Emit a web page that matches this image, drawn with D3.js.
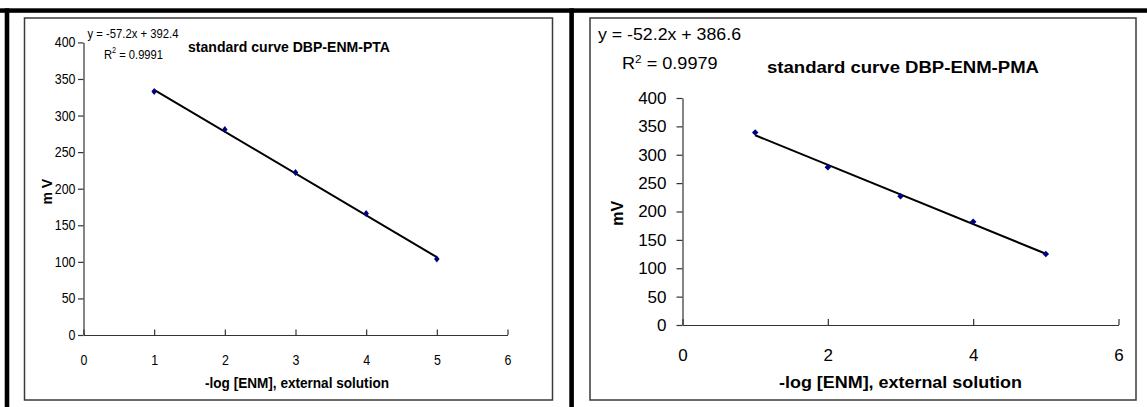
<!DOCTYPE html>
<html><head><meta charset="utf-8">
<script src="https://cdn.jsdelivr.net/npm/d3@7"></script>
<style>html,body{margin:0;padding:0;background:#fff;}svg{display:block;}text{font-family:"Liberation Sans",Arial,sans-serif;}</style>
</head><body>
<svg id="c" width="1147" height="407"></svg>
<script>
// ---- data ----
const xTicksA = [0, 1, 2, 3, 4, 5, 6];
const yTicksA = [0, 50, 100, 150, 200, 250, 300, 350, 400];
const concA = [1, 2, 3, 4, 5];
const mvA = [333, 281, 222, 166, 104];
const fitA = [-57.2, 392.4];          // slope, intercept
const eqA = "y = -57.2x + 392.4";
const r2A = "0.9991";
const titleA = "standard curve DBP-ENM-PTA";
const yLabelA = "m V";

const xTicksB = [0, 2, 4, 6];
const yTicksB = [0, 50, 100, 150, 200, 250, 300, 350, 400];
const concB = [1, 2, 3, 4, 5];
const mvB = [339, 278, 227, 182, 125];
const fitB = [-52.2, 386.6];
const eqB = "y = -52.2x + 386.6";
const r2B = "0.9979";
const titleB = "standard curve DBP-ENM-PMA";
const yLabelB = "mV";

const xLabel = "-log [ENM], external solution";

const svg = d3.select("#c");

// outer black frame (top, left, middle divider)
svg.append("rect").attr("x", 0).attr("y", 8.3).attr("width", 1147).attr("height", 4.5).attr("fill", "#000");
svg.append("rect").attr("x", 4.7).attr("y", 8.3).attr("width", 4.6).attr("height", 407).attr("fill", "#000");
svg.append("rect").attr("x", 569.3).attr("y", 8.3).attr("width", 4.6).attr("height", 407).attr("fill", "#000");

function panel(cfg) {
  const g = svg.append("g");
  g.append("rect").attr("x", cfg.box[0]).attr("y", cfg.box[1])
    .attr("width", cfg.box[2] - cfg.box[0]).attr("height", cfg.box[3] - cfg.box[1])
    .attr("fill", "#fff").attr("stroke", "#3a3a3a").attr("stroke-width", 1.5);

  const x = d3.scaleLinear().domain([0, 6]).range(cfg.xr);
  const y = d3.scaleLinear().domain([0, 400]).range(cfg.yr);

  const ya = g.append("g").attr("transform", `translate(${cfg.xr[0]},0)`)
    .call(d3.axisLeft(y).tickValues(cfg.yTicks).tickFormat(d3.format("d"))
      .tickSizeInner(cfg.tick).tickSizeOuter(0).tickPadding(cfg.ypad));
  ya.selectAll("text").attr("font-size", cfg.tickFont).attr("fill", "#000")
    .attr("font-family", '"Liberation Sans",Arial,sans-serif');
  if (cfg.tickCharW) ya.selectAll("text").attr("textLength", d => String(d).length * cfg.tickCharW)
    .attr("lengthAdjust", "spacingAndGlyphs");
  ya.selectAll("line,path").attr("stroke", "#333").attr("stroke-width", 1.2);

  const xa = g.append("g").attr("transform", `translate(0,${cfg.yr[0]})`)
    .call(d3.axisBottom(x).tickValues(cfg.xTicks).tickFormat(d3.format("d"))
      .tickSizeInner(-cfg.tick).tickSizeOuter(0));
  xa.selectAll("text").attr("font-size", cfg.tickFont).attr("fill", "#000")
    .attr("y", cfg.xlabOff).attr("dy", "0.35em")
    .attr("font-family", '"Liberation Sans",Arial,sans-serif');
  if (cfg.tickCharW) xa.selectAll("text").attr("textLength", d => String(d).length * cfg.tickCharW)
    .attr("lengthAdjust", "spacingAndGlyphs");
  xa.selectAll("line,path").attr("stroke", "#333").attr("stroke-width", 1.2);

  // trendline
  const f = cfg.fit;
  const x0 = d3.min(cfg.conc), x1 = d3.max(cfg.conc);
  g.append("line").attr("x1", x(x0)).attr("y1", y(f[0] * x0 + f[1]))
    .attr("x2", x(x1)).attr("y2", y(f[0] * x1 + f[1]))
    .attr("stroke", "#000").attr("stroke-width", 2);

  // markers
  const hw = cfg.mk[0] / 2, hh = cfg.mk[1] / 2;
  g.selectAll("path.pt").data(cfg.conc.map((c, i) => [c, cfg.mv[i]])).join("path")
    .attr("class", "pt")
    .attr("d", d => `M${x(d[0])},${y(d[1]) - hh}L${x(d[0]) + hw},${y(d[1])}L${x(d[0])},${y(d[1]) + hh}L${x(d[0]) - hw},${y(d[1])}Z`)
    .attr("fill", "#000080");

  // texts
  g.append("text").attr("x", cfg.eq[0]).attr("y", cfg.eq[2]).attr("font-size", cfg.eq[3])
    .attr("textLength", cfg.eq[1]).attr("lengthAdjust", "spacingAndGlyphs").text(cfg.eqText);

  const r = g.append("text").attr("x", cfg.r2[0]).attr("y", cfg.r2[2]).attr("font-size", cfg.r2[3])
    .attr("textLength", cfg.r2[1]).attr("lengthAdjust", "spacingAndGlyphs");
  r.append("tspan").text("R");
  r.append("tspan").attr("dy", -cfg.r2[3] * 0.4).attr("font-size", cfg.r2[3] * 0.65).text("2");
  r.append("tspan").attr("dy", cfg.r2[3] * 0.4).text(" = " + cfg.r2Text);

  g.append("text").attr("x", cfg.title[0]).attr("y", cfg.title[2]).attr("font-size", cfg.title[3])
    .attr("font-weight", "bold").attr("textLength", cfg.title[1]).attr("lengthAdjust", "spacingAndGlyphs")
    .text(cfg.titleText);

  g.append("text").attr("x", cfg.xl[0]).attr("y", cfg.xl[2]).attr("font-size", cfg.xl[3])
    .attr("font-weight", "bold").attr("textLength", cfg.xl[1]).attr("lengthAdjust", "spacingAndGlyphs")
    .text(xLabel);

  g.append("text").attr("transform", `translate(${cfg.yl[0]},${cfg.yl[1]}) rotate(-90)`)
    .attr("text-anchor", "middle").attr("dy", "0.35em").attr("font-size", cfg.yl[2])
    .attr("font-weight", "bold").text(cfg.yLabelText);
}

panel({
  box: [24.5, 18, 552.5, 400],
  xr: [83.5, 507.5], yr: [335, 42.4],
  xTicks: xTicksA, yTicks: yTicksA, conc: concA, mv: mvA, fit: fitA,
  tick: 5.5, ypad: 2.5, tickFont: 14, tickCharW: 6.9, xlabOff: 25,
  mk: [5.5, 7],
  eqText: eqA, eq: [87.5, 91, 37.5, 13],
  r2Text: r2A, r2: [104, 59, 58.5, 13],
  titleText: titleA, title: [188, 202, 52, 15],
  xl: [205, 184, 387.5, 15.5],
  yLabelText: yLabelA, yl: [47, 191.7, 14]
});

panel({
  box: [590, 18, 1136, 400],
  xr: [682.5, 1118.5], yr: [325, 98],
  xTicks: xTicksB, yTicks: yTicksB, conc: concB, mv: mvB, fit: fitB,
  tick: 6, ypad: 10, tickFont: 17, xlabOff: 30,
  mk: [6.5, 6.5],
  eqText: eqB, eq: [598, 143, 40, 16],
  r2Text: r2B, r2: [622, 95.6, 69, 16],
  titleText: titleB, title: [767, 272, 72.5, 16],
  xl: [779, 243, 387.5, 16],
  yLabelText: yLabelB, yl: [617, 213.3, 16]
});
</script>
</body></html>
